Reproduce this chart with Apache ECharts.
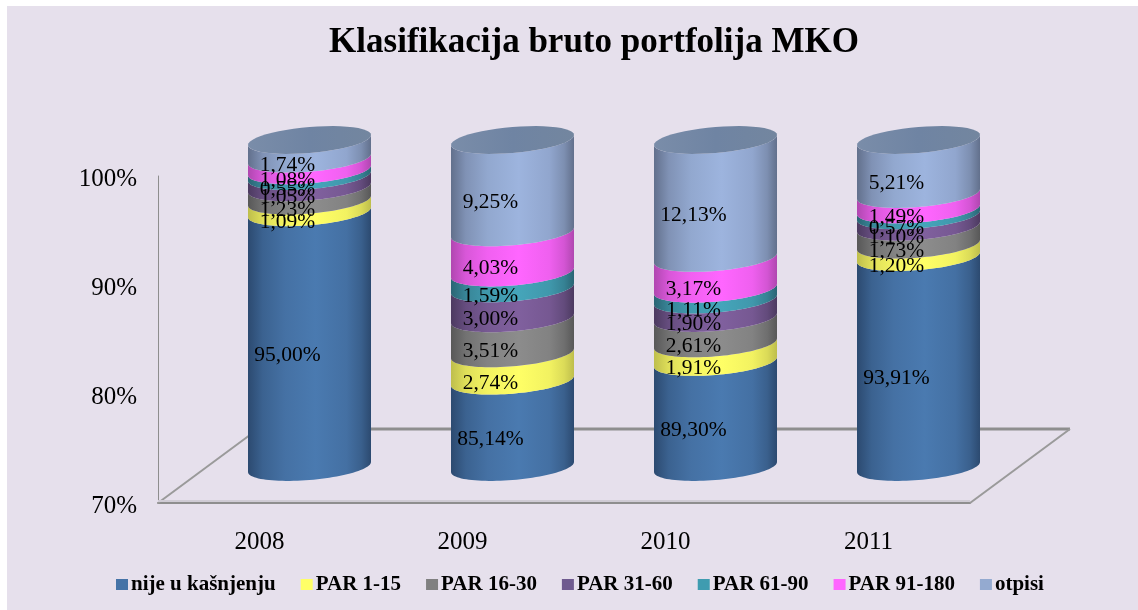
<!DOCTYPE html>
<html><head><meta charset="utf-8">
<style>html,body{margin:0;padding:0;background:#fff}#c{position:absolute;left:0;top:0;width:1138px;height:610px}</style>
<script src="https://cdn.jsdelivr.net/npm/echarts@6/dist/echarts.min.js"></script>
</head><body><div id="c"></div>
<script>
const years = ['2008','2009','2010','2011'];
const seriesNames = ['nije u kašnjenju','PAR 1-15','PAR 16-30','PAR 31-60','PAR 61-90','PAR 91-180','otpisi'];
const nijeUKasnjenju = [95.00,85.14,89.30,93.91];
const par1_15 = [1.09,2.74,1.91,1.20];
const par16_30 = [1.23,3.51,2.61,1.73];
const par31_60 = [1.05,3.00,1.90,1.10];
const par61_90 = [0.55,1.59,1.11,0.57];
const par91_180 = [1.08,4.03,3.17,1.49];
const otpisi = [1.74,9.25,12.13,5.21];
const yTicks = {min:70,max:100,interval:10};

const values = [nijeUKasnjenju,par1_15,par16_30,par31_60,par61_90,par91_180,otpisi];
const mid  = [[74,122,176],[255,255,102],[140,140,140],[128,96,158],[69,165,186],[255,102,255],[157,180,222]];
const edge = [[44,74,112],[190,190,76],[88,88,88],[76,58,96],[42,101,116],[176,71,176],[98,112,140]];
const flat = ['#4573a7','#ffff66','#808080','#6f5a8f','#3f9cb0','#ff66ff','#94aad0'];
const FONT = '"Liberation Serif","Times New Roman",serif';
const DX = 50, DY = -36, RX = 61.5, TILT = 5, RY = 13, LDX = 28, LDY = -20;

function mix(a,b,t){ return 'rgb('+a.map((v,i)=>Math.round(v+(b[i]-v)*t)).join(',')+')'; }
function arc(cx, cy, from, to){
  const pts = [], n = 48;
  for (let i=0;i<=n;i++){
    const t = from + (to-from)*i/n;
    pts.push([cx + RX*Math.cos(t), cy - TILT*Math.cos(t) + RY*Math.sin(t)]);
  }
  return pts;
}
function pctRange(s, i){
  let total = 0, base = 0;
  values.forEach((v,k)=>{ total += v[i]; if (k<s) base += v[i]; });
  return [Math.max(base/total*100, yTicks.min), (base+values[s][i])/total*100];
}
function grad(s){
  return new echarts.graphic.LinearGradient(0,0,1,0,[
    {offset:0,color:mix(edge[s],mid[s],0)},{offset:0.12,color:mix(edge[s],mid[s],0.5)},{offset:0.3,color:mix(edge[s],mid[s],0.82)},
    {offset:0.55,color:mix(edge[s],mid[s],1)},{offset:0.8,color:mix(edge[s],mid[s],0.8)},{offset:0.92,color:mix(edge[s],mid[s],0.45)},{offset:1,color:mix(edge[s],mid[s],0)}]);
}
const series = values.map((vals,s)=>({
  name: seriesNames[s], type:'custom', data: vals, z:3,
  itemStyle:{color:flat[s]},
  renderItem(params, api){
    const i = params.dataIndex;
    const [lo,hi] = pctRange(s,i);
    const pLo = api.coord([i,lo]), pHi = api.coord([i,hi]);
    const cx = pLo[0]+DX, yLo = pLo[1]+DY, yHi = pHi[1]+DY;
    const lower = arc(cx,yLo,Math.PI,0);
    const upper = arc(cx,yHi,0,Math.PI);
    const children = [{type:'polygon',shape:{points:lower.concat(upper)},style:{fill:grad(s)}}];
    if (s===values.length-1){
      children.push({type:'polygon',shape:{points:arc(cx,yHi,0,2*Math.PI)},style:{
        fill:new echarts.graphic.LinearGradient(0,0,1,0,[{offset:0,color:'#7a8da9'},{offset:0.5,color:'#6f84a3'},{offset:1,color:'#73869f'}])}});
    }
    const c = api.coord([i,(lo+hi)/2]);
    children.push({type:'text',z2:100,style:{
      x:c[0]+LDX,y:c[1]+LDY,text:vals[i].toFixed(2).replace('.',',')+'%',
      align:'center',verticalAlign:'middle',fill:'#000',font:'21.5px '+FONT}});
    return {type:'group',children};
  }
}));
series.unshift({
  type:'custom', z:1, silent:true, data:[0], legendHoverLink:false,
  renderItem(params){
    const g = params.coordSys, L=g.x, R=g.x+g.width, B=g.y+g.height, ox=100, oy=-74;
    const ln=(a,b,c,d,w,col)=>({type:'line',shape:{x1:a,y1:b,x2:c,y2:d},style:{stroke:col,lineWidth:w}});
    return {type:'group',children:[
      ln(L+ox,B+oy,R+ox,B+oy,3,'#8e8e8e'),
      ln(L,B,L+ox,B+oy,2,'#9a9a9a'),
      ln(R,B,R+ox,B+oy,2,'#9a9a9a'),
      ln(L,B-2,R,B-2,2,'#cfcbd4')
    ]};
  }
});
const chart = echarts.init(document.getElementById('c'),null,{width:1138,height:610});
chart.setOption({
  animation:false,
  graphic:[{type:'rect',z:-1,shape:{x:7,y:6,width:1131,height:604},style:{fill:'#e6e0ec'}}],
  title:{text:'Klasifikacija bruto portfolija MKO',left:589,top:20,textAlign:'center',
    textStyle:{fontFamily:FONT,fontWeight:'bold',fontSize:35,color:'#000'}},
  legend:{left:111,top:569,itemWidth:12,itemHeight:11,itemGap:25,icon:'rect',
    data:seriesNames,selectedMode:false,
    textStyle:{fontFamily:FONT,fontWeight:'bold',fontSize:21,color:'#000',padding:[0,0,0,-2]}},
  grid:{left:158,right:168,top:176,bottom:107,containLabel:false},
  tooltip:{show:false},
  xAxis:{type:'category',data:years,axisTick:{show:false},
    axisLine:{lineStyle:{color:'#8e8e8e',width:2}},
    axisLabel:{margin:27,fontFamily:FONT,fontSize:25,color:'#000'}},
  yAxis:{type:'value',min:yTicks.min,max:yTicks.max,interval:yTicks.interval,splitLine:{show:false},axisTick:{show:false},
    axisLine:{show:true,lineStyle:{color:'#8e8e8e',width:1}},
    axisLabel:{margin:21,formatter:'{v|{value}%}',color:'#000',
      rich:{v:{fontFamily:FONT,fontSize:25,color:'#000',padding:[6,0,0,0]}}}},
  series
});
</script></body></html>
